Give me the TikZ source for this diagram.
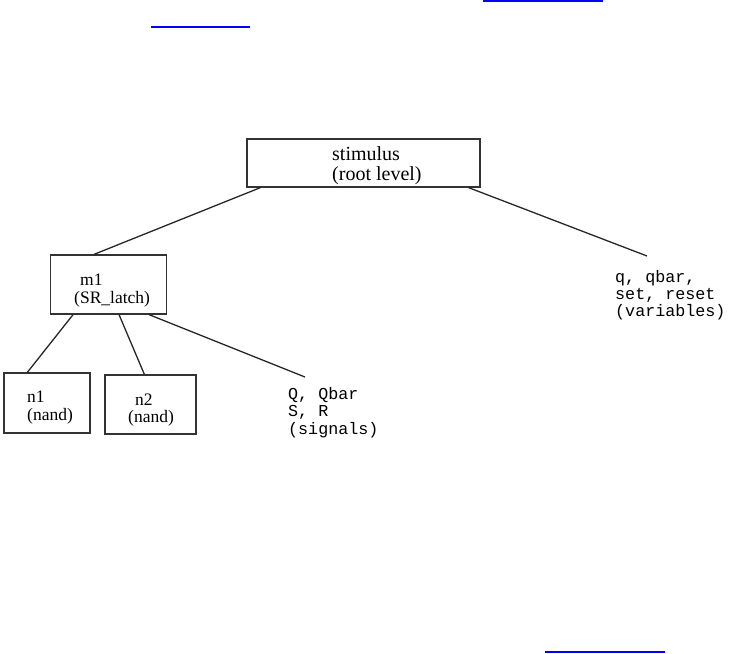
\documentclass[tikz,border=0pt]{standalone}
\usepackage{fontspec}
\setmainfont{Liberation Serif}
\setmonofont{Liberation Mono}
\usetikzlibrary{calc}
\begin{document}
\begin{tikzpicture}[x=1pt,y=-1pt,
  box/.style={draw=black!80,line width=1.3pt,inner sep=0pt,rectangle},
  conn/.style={draw=black!85,line width=1.3pt},
  link/.style={draw=blue,line width=1.5pt},
  lbl/.style={inner sep=0pt,anchor=base west,font=\fontsize{17.5}{18}\selectfont},
  lblbig/.style={inner sep=0pt,anchor=base west,font=\fontsize{20}{20}\selectfont},
  mono/.style={inner sep=0pt,anchor=base west,font=\ttfamily\fontsize{16.7}{17.5}\selectfont}]
\useasboundingbox (0,0) rectangle (730,653);
% hyperlink underlines
\draw[link] (151,27) -- (250,27);
\draw[link] (483,0.8) -- (603,0.8);
\draw[link] (545,652) -- (665,652);
% boxes
\node[box,minimum width=233pt,minimum height=48pt] (stim) at (363.5,163) {};
\node[box,minimum width=116pt,minimum height=59pt] (m1) at (108.7,284.5) {};
\node[box,minimum width=86pt,minimum height=60pt] (n1) at (47,403) {};
\node[box,minimum width=91pt,minimum height=59pt] (n2) at (150.5,404.5) {};
% texts in boxes
\node[lblbig] (stimA) at (332,160) {stimulus};
\node[lblbig] (stimB) at (332,180) {(root level)};
\node[lbl] (m1A) at (80,285.5) {m1};
\node[lbl] (m1B) at (74,303) {(SR\_latch)};
\node[lbl] (n1A) at (27,402) {n1};
\node[lbl] (n1B) at (27,420) {(nand)};
\node[lbl] (n2A) at (135,405) {n2};
\node[lbl] (n2B) at (128,422.5) {(nand)};
% free labels
\node[mono] (sigA) at (288,399) {Q, Qbar};
\node[mono] (sigB) at (288,416.5) {S, R};
\node[mono] (sigC) at (288,434) {(signals)};
\node[mono] (varA) at (615,282) {q, qbar,};
\node[mono] (varB) at (615,299) {set, reset};
\node[mono] (varC) at (615,316) {(variables)};
% connector ends
\coordinate (varEnd) at (647,256);
\coordinate (sigEnd) at (305,377);
% connectors
\draw[conn] ($(stim.south west)+(14,0)$) -- ($(m1.north west)+(44,0)$);
\draw[conn] ($(stim.south east)+(-12,0)$) -- (varEnd);
\draw[conn] ($(m1.south west)+(23,0)$) -- ($(n1.north west)+(24,0)$);
\draw[conn] ($(m1.south west)+(69,0)$) -- ($(n2.north west)+(40,0)$);
\draw[conn] ($(m1.south west)+(99,0)$) -- (sigEnd);
\end{tikzpicture}
\end{document}
